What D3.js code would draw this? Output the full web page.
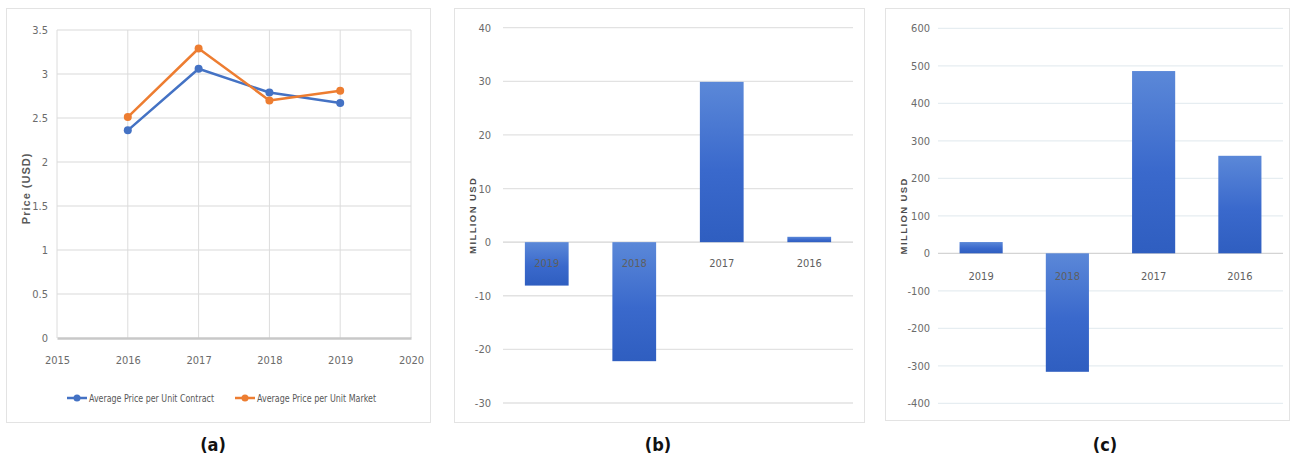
<!DOCTYPE html>
<html>
<head>
<meta charset="utf-8">
<script src="https://cdn.jsdelivr.net/npm/d3@7/dist/d3.min.js"></script>
<style>
  html, body { margin: 0; padding: 0; background: #ffffff; }
  svg { display: block; }
  text { font-family: "Liberation Sans Narrow", "DejaVu Sans Condensed", sans-serif; font-stretch: condensed; }
</style>
</head>
<body>
<svg id="fig" width="1293" height="456"></svg>
<script>
// ---- data ----
const lineYears = [2016, 2017, 2018, 2019];
const contractPrice = [2.36, 3.06, 2.79, 2.67];
const marketPrice = [2.51, 3.29, 2.70, 2.81];
const yearTicks = [2015, 2016, 2017, 2018, 2019, 2020];
const priceTicks = [0, 0.5, 1, 1.5, 2, 2.5, 3, 3.5];
const seriesNames = ["Average Price per Unit Contract", "Average Price per Unit Market"];
const seriesColors = ["#4472C4", "#ED7D31"];

const barYears = ["2019", "2018", "2017", "2016"];
const valuesB = [-8.1, -22.2, 29.9, 1.0];
const ticksB = [-30, -20, -10, 0, 10, 20, 30, 40];
const valuesC = [30, -316, 486, 260];
const ticksC = [-400, -300, -200, -100, 0, 100, 200, 300, 400, 500, 600];

const svg = d3.select("#fig");
const defs = svg.append("defs");
const grad = defs.append("linearGradient")
  .attr("id", "barFill").attr("x1", 0).attr("y1", 0).attr("x2", 0).attr("y2", 1);
grad.append("stop").attr("offset", "0%").attr("stop-color", "#5b88d8");
grad.append("stop").attr("offset", "55%").attr("stop-color", "#3a69cc");
grad.append("stop").attr("offset", "100%").attr("stop-color", "#2f5ec0");

const tickColor = "#6b6b6b";

// panel frames
function frame(x, y, w, h) {
  svg.append("rect").attr("x", x).attr("y", y).attr("width", w).attr("height", h)
    .attr("fill", "none").attr("stroke", "#e3e3e3").attr("stroke-width", 1);
}
frame(6.5, 8.5, 424, 414);
frame(454.5, 8.5, 410, 414);
frame(885.5, 8.5, 404, 412);

// ---------- (a) line chart ----------
{
  const x = d3.scaleLinear().domain([2015, 2020]).range([57, 411]);
  const y = d3.scaleLinear().domain([0, 3.5]).range([338, 30]);
  const g = svg.append("g");

  // grid
  g.append("g").selectAll("line").data(priceTicks.filter(d => d > 0)).join("line")
    .attr("x1", x(2015)).attr("x2", x(2020))
    .attr("y1", d => y(d)).attr("y2", d => y(d))
    .attr("stroke", "#d9d9d9").attr("stroke-width", 1.2);
  g.append("g").selectAll("line").data(yearTicks).join("line")
    .attr("x1", d => x(d)).attr("x2", d => x(d))
    .attr("y1", y(0)).attr("y2", y(3.5))
    .attr("stroke", "#dcdcdc").attr("stroke-width", 1);

  // axes
  const yAxis = d3.axisLeft(y).tickValues(priceTicks).tickSize(0).tickPadding(9)
    .tickFormat(d => String(d));
  const ya = g.append("g").attr("transform", `translate(${x(2015)},0)`).call(yAxis);
  ya.select(".domain").remove();
  ya.selectAll("text").attr("fill", tickColor).style("font-size", "11px")
    .style("font-family", "'Liberation Sans Narrow', 'DejaVu Sans Condensed', sans-serif");

  const xAxis = d3.axisBottom(x).tickValues(yearTicks).tickSize(0).tickPadding(18)
    .tickFormat(d3.format("d"));
  const xa = g.append("g").attr("transform", `translate(0,${y(0)})`).call(xAxis);
  xa.select(".domain").attr("stroke", "#c8c8c8").attr("stroke-width", 2.5);
  xa.selectAll("text").attr("fill", tickColor).style("font-size", "11px")
    .style("font-family", "'Liberation Sans Narrow', 'DejaVu Sans Condensed', sans-serif");

  // axis title
  g.append("text").attr("transform", `translate(30,${y(1.7)}) rotate(-90)`)
    .attr("text-anchor", "middle").attr("fill", "#595959")
    .style("font-family", "'Liberation Sans', Arial, sans-serif")
    .style("font-weight", "bold").style("font-size", "11px").style("letter-spacing", "1px")
    .text("Price  (USD)");

  // series
  const allSeries = [contractPrice, marketPrice];
  const line = d3.line().x((d, i) => x(lineYears[i])).y(d => y(d));
  allSeries.forEach((vals, s) => {
    g.append("path").datum(vals).attr("d", line)
      .attr("fill", "none").attr("stroke", seriesColors[s]).attr("stroke-width", 2.5)
      .attr("stroke-linejoin", "round");
    g.append("g").selectAll("circle").data(vals).join("circle")
      .attr("cx", (d, i) => x(lineYears[i])).attr("cy", d => y(d)).attr("r", 4)
      .attr("fill", seriesColors[s]);
  });

  // legend
  const legendX = [67, 235];
  const legendTextWidth = [125, 119];
  seriesNames.forEach((name, s) => {
    const lg = g.append("g").attr("transform", `translate(${legendX[s]},398)`);
    lg.append("line").attr("x1", 0).attr("x2", 20).attr("y1", 0).attr("y2", 0)
      .attr("stroke", seriesColors[s]).attr("stroke-width", 2.5);
    lg.append("circle").attr("cx", 10).attr("cy", 0).attr("r", 3.5).attr("fill", seriesColors[s]);
    lg.append("text").attr("x", 22).attr("y", 4).attr("fill", "#595959")
      .attr("textLength", legendTextWidth[s]).attr("lengthAdjust", "spacingAndGlyphs")
      .style("font-size", "10.5px").text(name);
  });

  svg.append("text").attr("x", 213).attr("y", 451).attr("text-anchor", "middle")
    .attr("fill", "#111").style("font-weight", "bold").style("font-size", "18px").text("(a)");
}

// ---------- bar panels ----------
function barPanel(opts) {
  const { values, ticks, xRange, yRange, gridColor, labelGap, tickRight, titleX, caption, captionX } = opts;
  const x = d3.scaleBand().domain(barYears).range(xRange).paddingInner(0.5).paddingOuter(0.25);
  const y = d3.scaleLinear().domain([ticks[0], ticks[ticks.length - 1]]).range(yRange);
  const g = svg.append("g");

  g.append("g").selectAll("line").data(ticks).join("line")
    .attr("x1", xRange[0]).attr("x2", xRange[1])
    .attr("y1", d => y(d)).attr("y2", d => y(d))
    .attr("stroke", d => d === 0 ? "#d4d4d4" : gridColor).attr("stroke-width", 1.3);

  const yAxis = d3.axisLeft(y).tickValues(ticks).tickSize(0).tickPadding(xRange[0] - tickRight)
    .tickFormat(d => String(d));
  const ya = g.append("g").attr("transform", `translate(${xRange[0]},0)`).call(yAxis);
  ya.select(".domain").remove();
  ya.selectAll("text").attr("fill", tickColor).style("font-size", "11px")
    .style("font-family", "'Liberation Sans Narrow', 'DejaVu Sans Condensed', sans-serif");

  g.append("g").selectAll("rect").data(values).join("rect")
    .attr("x", (d, i) => x(barYears[i]))
    .attr("width", x.bandwidth())
    .attr("y", d => y(Math.max(0, d)))
    .attr("height", d => Math.abs(y(d) - y(0)))
    .attr("fill", "url(#barFill)");

  g.append("g").selectAll("text").data(barYears).join("text")
    .attr("x", d => x(d) + x.bandwidth() / 2)
    .attr("y", y(0) + labelGap)
    .attr("text-anchor", "middle").attr("fill", "#5f5f5f")
    .style("font-size", "11px").text(d => d);

  g.append("text").attr("transform", `translate(${titleX},${y((ticks[0] + ticks[ticks.length - 1]) / 2)}) rotate(-90)`)
    .attr("text-anchor", "middle").attr("fill", "#4d4d4d")
    .style("font-family", "'Liberation Sans', Arial, sans-serif")
    .style("font-weight", "bold").style("font-size", "9.5px").style("letter-spacing", "1.4px")
    .text("MILLION USD");

  svg.append("text").attr("x", captionX).attr("y", 451).attr("text-anchor", "middle")
    .attr("fill", "#111").style("font-weight", "bold").style("font-size", "18px").text(caption);
}

barPanel({
  values: valuesB, ticks: ticksB, xRange: [503, 853], yRange: [403, 27.7],
  gridColor: "#e2e2e2", labelGap: 25, tickRight: 491, titleX: 476,
  caption: "(b)", captionX: 658
});

barPanel({
  values: valuesC, ticks: ticksC, xRange: [938, 1283], yRange: [403.3, 28.3],
  gridColor: "#e6edf1", labelGap: 27, tickRight: 930, titleX: 907,
  caption: "(c)", captionX: 1105
});
</script>
</body>
</html>
